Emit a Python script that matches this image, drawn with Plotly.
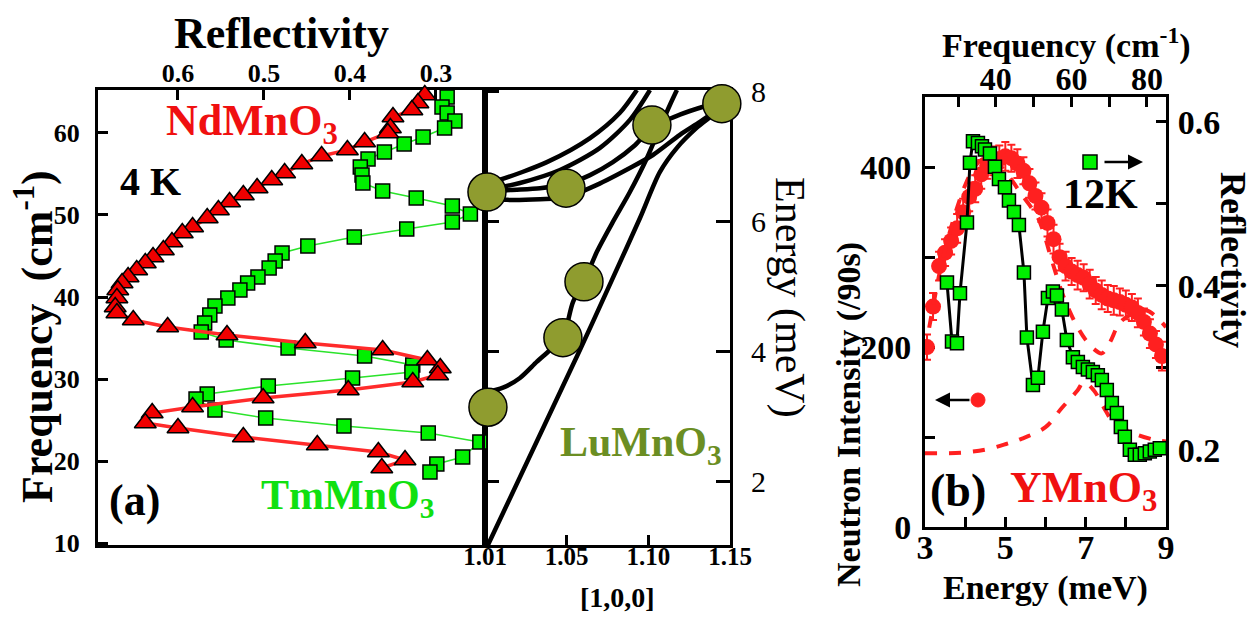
import plotly.graph_objects as go

W, H = 1252, 617
FONT = "Liberation Serif"

# ---------------- Panel (a): reflectivity spectra (frequency cm^-1 vs reflectivity)
nd_freq = [64.63, 63.66, 62.80, 61.95, 60.61, 60.00, 58.90, 57.93, 57.20, 56.22, 55.12, 54.27, 53.29,
           52.44, 51.59, 50.61, 49.63, 48.54, 47.80, 46.71, 45.73, 44.88, 44.15, 43.29, 42.44, 41.71,
           40.85, 39.88, 38.78, 38.05, 37.20, 36.34, 35.37, 34.39, 33.54, 32.32, 31.34, 30.49, 29.63,
           28.66, 27.68, 26.59, 25.85, 24.63, 24.02, 22.93, 21.95, 21.10, 20.12, 19.15]
nd_refl = [0.313, 0.321, 0.328, 0.350, 0.353, 0.356, 0.383, 0.403, 0.433, 0.456, 0.476, 0.491, 0.508,
           0.524, 0.540, 0.553, 0.566, 0.583, 0.595, 0.607, 0.617, 0.629, 0.638, 0.648, 0.658, 0.665,
           0.670, 0.671, 0.673, 0.671, 0.652, 0.612, 0.543, 0.452, 0.362, 0.310, 0.295, 0.298, 0.327,
           0.402, 0.501, 0.583, 0.630, 0.638, 0.600, 0.524, 0.438, 0.367, 0.336, 0.363]

tm_freq = [64.39, 63.17, 62.44, 61.46, 60.61, 59.51, 58.66, 57.68, 56.83, 55.85, 54.88, 53.90, 52.93,
           52.07, 51.10, 50.12, 49.15, 48.29, 47.32, 46.22, 45.37, 44.39, 43.54, 42.44, 41.71, 40.85,
           39.88, 38.90, 37.80, 36.83, 35.73, 34.76, 33.78, 32.80, 31.71, 30.85, 30.12, 29.15, 28.17,
           27.56, 26.22, 25.24, 24.27, 23.41, 22.32, 20.49, 19.63, 18.66]
tm_refl = [0.287, 0.293, 0.287, 0.278, 0.290, 0.315, 0.337, 0.360, 0.379, 0.388, 0.386, 0.385, 0.362,
           0.323, 0.281, 0.260, 0.281, 0.334, 0.395, 0.449, 0.479, 0.487, 0.494, 0.507, 0.519, 0.528,
           0.542, 0.557, 0.563, 0.569, 0.573, 0.544, 0.472, 0.383, 0.327, 0.328, 0.397, 0.495, 0.566,
           0.579, 0.557, 0.498, 0.407, 0.309, 0.249, 0.269, 0.299, 0.307]

# ---------------- Middle: LuMnO3 dispersion ([1,0,0] vs energy meV)
disp_q = [
    [1.0018, 1.0581, 1.0783, 1.0949, 1.1071, 1.1175, 1.1297, 1.1395, 1.1450],
    [1.0006, 1.0110, 1.0214, 1.0318, 1.0398, 1.0477, 1.0539, 1.0606, 1.0685, 1.0783, 1.0887, 1.0991,
     1.1071, 1.1132, 1.1175],
    [1.000, 1.0092, 1.0379, 1.0643, 1.0826, 1.0930],
    [1.000, 1.0214, 1.0459, 1.0704, 1.0887, 1.1010],
    [1.000, 1.0153, 1.0337, 1.0496, 1.0643, 1.0783, 1.0918, 1.1022, 1.1193, 1.1346, 1.1450],
    [1.000, 1.0135, 1.0337, 1.0496, 1.0685, 1.0887, 1.1028, 1.1193, 1.1316, 1.1420],
]
disp_E = [
    [1.03, 4.03, 5.14, 6.06, 6.77, 7.14, 7.45, 7.65, 7.82],
    [3.38, 3.45, 3.60, 3.85, 4.03, 4.23, 4.77, 5.08, 5.54, 6.00, 6.46, 6.98, 7.45, 7.80, 8.03],
    [6.60, 6.65, 6.92, 7.29, 7.68, 8.03],
    [6.49, 6.60, 6.80, 7.14, 7.57, 8.03],
    [6.46, 6.49, 6.52, 6.58, 6.72, 6.92, 7.18, 7.45, 7.65, 7.78, 7.85],
    [6.37, 6.34, 6.35, 6.38, 6.57, 6.83, 7.03, 7.34, 7.54, 7.72],
]
lu_q = [1.0012, 1.0496, 1.1022, 1.1450, 1.0606, 1.0477, 1.0018]
lu_E = [6.46, 6.52, 7.49, 7.82, 5.08, 4.22, 3.15]

# ---------------- Panel (b): YMnO3
nb_E = [3.05, 3.2, 3.35, 3.5, 3.65, 3.8, 3.95, 4.1, 4.25, 4.4, 4.55, 4.7, 4.85, 5.0, 5.15, 5.3,
        5.45, 5.6, 5.75, 5.9, 6.05, 6.2, 6.35, 6.5, 6.65, 6.8, 6.95, 7.1, 7.25, 7.4, 7.55, 7.7,
        7.85, 8.0, 8.15, 8.3, 8.45, 8.6, 8.75, 8.9]
nb_I = [200, 245, 290, 305, 318, 332, 350, 367, 376, 392, 402, 407, 409, 412, 410, 404,
        396, 382, 368, 355, 338, 320, 300, 290, 284, 280, 277, 270, 263, 258, 254, 252,
        250, 247, 244, 238, 228, 215, 203, 190]
nb_err = [14, 15, 16, 15, 15, 16, 15, 16, 15, 16, 15, 16, 15, 16, 15, 16,
          15, 16, 15, 16, 15, 16, 15, 16, 15, 16, 15, 16, 15, 16, 15, 16,
          15, 16, 15, 16, 15, 16, 15, 16]

fit_tot_E = [3.0, 3.2, 3.4, 3.6, 3.8, 4.0, 4.2, 4.4, 4.6, 4.8, 5.0, 5.2, 5.4, 5.6, 5.8, 5.95,
             6.1, 6.25, 6.4, 6.6, 6.8, 7.0, 7.2, 7.4, 7.6, 7.85, 8.2, 8.5, 8.8, 9.0]
fit_tot_I = [195, 245, 290, 325, 355, 380, 398, 408, 410, 405, 395, 383, 370, 358, 345, 328,
             305, 283, 262, 240, 222, 208, 198, 193, 205, 227, 238, 241, 232, 222]
fit_low_E = [3.0, 3.5, 4.0, 4.5, 5.0, 5.4, 6.0, 6.4, 6.8, 6.95, 7.2, 7.45, 7.7, 8.2, 8.7, 9.0]
fit_low_I = [82, 82, 83, 86, 92, 98, 111, 132, 152, 161, 152, 133, 116, 104, 97, 95]

yb_E = [3.547, 3.672, 3.796, 3.871, 4.045, 4.119, 4.194, 4.318, 4.418, 4.493, 4.617, 4.741,
        4.841, 4.990, 5.090, 5.214, 5.338, 5.463, 5.537, 5.687, 5.811, 5.935, 6.060, 6.184,
        6.284, 6.408, 6.532, 6.682, 6.806, 6.930, 7.055, 7.179, 7.303, 7.403, 7.527, 7.652,
        7.776, 7.876, 7.975, 8.100, 8.224, 8.348, 8.473, 8.597, 8.721, 8.846]
yb_R = [0.404, 0.332, 0.330, 0.391, 0.477, 0.550, 0.576, 0.574, 0.570, 0.566, 0.561, 0.545,
        0.530, 0.520, 0.504, 0.490, 0.474, 0.416, 0.337, 0.279, 0.288, 0.344, 0.385, 0.393,
        0.388, 0.371, 0.334, 0.313, 0.307, 0.301, 0.298, 0.295, 0.291, 0.285, 0.273, 0.257,
        0.245, 0.228, 0.216, 0.200, 0.194, 0.194, 0.196, 0.198, 0.200, 0.202]

# top frequency axis of panel (b)
fb_ticks = [30, 40, 50, 60, 70, 80]
fb_text = ['', '40', '', '60', '', '80']


def X(p):
    return p / W


def Y(p):
    return 1 - p / H


fig = go.Figure()

# panel (a)
fig.add_trace(go.Scatter(x=tm_refl, y=tm_freq, xaxis='x', yaxis='y', mode='lines+markers',
                         line=dict(color='#2be32b', width=1.6),
                         marker=dict(symbol='square', size=14, color='#00f000',
                                     line=dict(color='black', width=1.5)), cliponaxis=False))
fig.add_trace(go.Scatter(x=nd_refl, y=nd_freq, xaxis='x', yaxis='y', mode='lines+markers',
                         line=dict(color='#ff2b2b', width=3.5),
                         marker=dict(symbol='triangle-up', size=19, color='#f00000',
                                     line=dict(color='black', width=1.5)), cliponaxis=False))

# middle
for q, e in zip(disp_q, disp_E):
    fig.add_trace(go.Scatter(x=q, y=e, xaxis='x2', yaxis='y2', mode='lines',
                             line=dict(color='black', width=4.5, shape='spline', smoothing=0.8)))
fig.add_trace(go.Scatter(x=lu_q, y=lu_E, xaxis='x2', yaxis='y2', mode='markers',
                         marker=dict(symbol='circle', size=38, color='#8f9c2f',
                                     line=dict(color='black', width=1.5)), cliponaxis=False))

# panel (b)
fig.add_trace(go.Scatter(x=fit_low_E, y=fit_low_I, xaxis='x3', yaxis='y3', mode='lines',
                         line=dict(color='#ff2020', width=4, dash='dash', shape='spline')))
fig.add_trace(go.Scatter(x=nb_E, y=nb_I, xaxis='x3', yaxis='y3', mode='markers',
                         marker=dict(symbol='circle', size=16, color='#ff2020'),
                         error_y=dict(type='data', array=nb_err, color='#ff2020', thickness=2, width=4)))
fig.add_trace(go.Scatter(x=fit_tot_E, y=fit_tot_I, xaxis='x3', yaxis='y3', mode='lines',
                         line=dict(color='#ff2020', width=4, dash='dash', shape='spline')))
fig.add_trace(go.Scatter(x=yb_E, y=yb_R, xaxis='x3', yaxis='y4', mode='lines+markers',
                         line=dict(color='black', width=3),
                         marker=dict(symbol='square', size=13, color='#00f000',
                                     line=dict(color='black', width=1.5)), cliponaxis=False))
# invisible carrier so the top frequency axis is drawn
fig.add_trace(go.Scatter(x=fb_ticks, y=[None] * len(fb_ticks), xaxis='x4', yaxis='y3',
                         mode='markers', marker=dict(opacity=0), hoverinfo='skip'))


def tf(size, bold=True):
    d = dict(family=FONT, size=size, color='black')
    if bold:
        d['weight'] = 'bold'
    return d


common = dict(showline=True, linecolor='black', linewidth=3, showgrid=False, zeroline=False,
              ticks='inside', tickcolor='black', tickwidth=3, ticklen=10, layer='below traces',
              automargin=False)

fig.update_layout(
    template='none',
    width=W, height=H, autosize=False, margin=dict(l=0, r=0, t=0, b=0, pad=0),
    paper_bgcolor='white', plot_bgcolor='white', showlegend=False,
    xaxis=dict(common, domain=[X(98), X(485)], range=[0.693, 0.243], side='top', anchor='y',
               mirror=True, tickvals=[0.3, 0.4, 0.5, 0.6], ticktext=['0.3', '0.4', '0.5', '0.6'],
               tickfont=tf(26), ticklabelstandoff=-5),
    yaxis=dict(common, domain=[Y(545), Y(90)], range=[9.76, 65.24], anchor='x', mirror=True,
               tickvals=[10, 20, 30, 40, 50, 60], tickfont=tf(26), ticklabelstandoff=10),
    xaxis2=dict(common, domain=[X(485), X(730)], range=[1.0, 1.15], anchor='y2', side='bottom',
                mirror=True, tickvals=[1.0, 1.05, 1.10, 1.15],
                ticktext=['1.01', '1.05', '1.10', '1.15'], tickfont=tf(25), ticklabelstandoff=-13),
    yaxis2=dict(common, domain=[Y(545), Y(90)], range=[1.03, 8.03], anchor='x2', side='right',
                mirror='ticks', tickvals=[2, 4, 6, 8], ticklen=14, tickfont=tf(30, bold=False),
                ticklabelstandoff=12),
    xaxis3=dict(common, domain=[X(925), X(1166)], range=[3, 9], anchor='y3', side='bottom',
                tickvals=[3, 4, 5, 6, 7, 8, 9], ticktext=['3', '', '5', '', '7', '', '9'],
                tickfont=tf(34), ticklabelstandoff=-12),
    xaxis4=dict(common, overlaying='x3', range=[21.27, 85.03], anchor='y3', side='top',
                tickvals=fb_ticks, ticktext=fb_text, tickfont=tf(32), ticklabelstandoff=-9),
    yaxis3=dict(common, domain=[Y(527), Y(97)], range=[0, 478], anchor='x3', side='left',
                tickvals=[0, 100, 200, 300, 400], ticktext=['0', '', '200', '', '400'],
                tickfont=tf(34), ticklabelstandoff=4),
    yaxis4=dict(common, overlaying='y3', range=[0.106, 0.630], anchor='x3', side='right',
                tickvals=[0.2, 0.3, 0.4, 0.5, 0.6], ticktext=['0.2', '', '0.4', '', '0.6'],
                tickfont=tf(34), ticklabelstandoff=2),
)

ann = []


def add_text(text, x, y, size, color='black', angle=0, bold=True):
    f = dict(family=FONT, size=size, color=color)
    if bold:
        f['weight'] = 'bold'
    ann.append(dict(text=text, x=X(x), y=Y(y), xref='paper', yref='paper', showarrow=False,
                    font=f, textangle=angle, xanchor='center', yanchor='middle'))


add_text('Reflectivity', 281, 33, 44)
add_text('Frequency  (cm<sup>-1</sup>)', 34, 337, 44, angle=-90)
add_text('NdMnO<sub>3</sub>', 252, 123, 44, color='#f01010')
add_text('4 K', 150, 181, 40)
add_text('(a)', 134, 500, 44)
add_text('TmMnO<sub>3</sub>', 347, 498, 42, color='#10e010')
add_text('LuMnO<sub>3</sub>', 641, 445, 42, color='#6b8e23')
add_text('Energy (meV)', 790, 297, 42, angle=90, bold=False)
add_text('[1,0,0]', 617, 597, 28)
add_text('Frequency (cm<sup>-1</sup>)', 1066, 43, 34)
add_text('Energy (meV)', 1045, 588, 34)
add_text('Neutron Intensity (/90s)', 849, 415, 34, angle=-90)
add_text('Reflectivity', 1233, 260, 36, angle=90)
add_text('12K', 1100, 194, 42)
add_text('(b)', 958, 490, 46)
add_text('YMnO<sub>3</sub>', 1083, 490, 44, color='#f01010')

# legend arrows
ann.append(dict(x=X(1143), y=Y(162), xref='paper', yref='paper', ax=-40, ay=0, axref='pixel',
                ayref='pixel', showarrow=True, arrowhead=2, arrowsize=1.2, arrowwidth=2.5,
                arrowcolor='black', text=''))
ann.append(dict(x=X(935), y=Y(400), xref='paper', yref='paper', ax=36, ay=0, axref='pixel',
                ayref='pixel', showarrow=True, arrowhead=2, arrowsize=1.2, arrowwidth=2.5,
                arrowcolor='black', text=''))

shapes = [
    dict(type='rect', xref='paper', yref='paper', x0=X(1083), x1=X(1097), y0=Y(169), y1=Y(155),
         fillcolor='#00f000', line=dict(color='black', width=1.5)),
    dict(type='circle', xref='paper', yref='paper', x0=X(971), x1=X(985), y0=Y(407), y1=Y(393),
         fillcolor='#ff2020', line=dict(color='#ff2020', width=1)),
]

fig.update_layout(annotations=ann, shapes=shapes)
fig.write_html("out.html")
